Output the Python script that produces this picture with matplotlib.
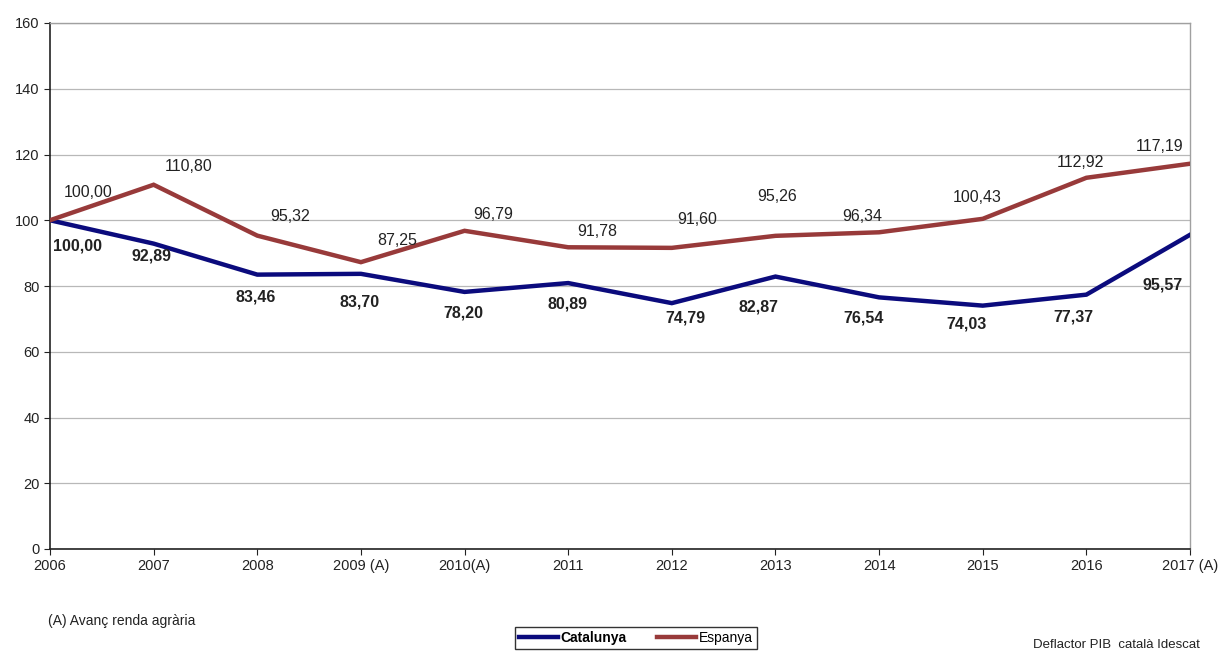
import matplotlib.pyplot as plt
from matplotlib.lines import Line2D

plt.rcParams['font.family'] = ['Liberation Sans', 'DejaVu Sans']

years = ["2006", "2007", "2008", "2009 (A)", "2010(A)", "2011", "2012",
         "2013", "2014", "2015", "2016", "2017 (A)"]
catalunya = [100.00, 92.89, 83.46, 83.70, 78.20, 80.89, 74.79, 82.87,
             76.54, 74.03, 77.37, 95.57]
espanya = [100.00, 110.80, 95.32, 87.25, 96.79, 91.78, 91.60, 95.26,
           96.34, 100.43, 112.92, 117.19]

# label offsets in pixels (dx, dy)
esp_offsets = [(38, 28), (35, 18), (33, 19), (36, 22), (29, 16), (29, 16),
               (25, 28), (2, 39), (-17, 16), (-6, 21), (-6, 15), (-30, 17)]
cat_offsets = [(28, -26), (-2, -12), (-2, -22), (-1, -28), (-1, -21), (-1, -21),
               (14, -15), (-17, -30), (-16, -21), (-16, -18), (-13, -22), (-27, -50)]

col_cat = '#0b0b7d'
col_esp = '#983a3a'


def fmt(v):
    return f"{v:.2f}".replace('.', ',')


fig = plt.figure(figsize=(12.23, 6.53), dpi=100)
ax = fig.add_axes([50 / 1223, 104 / 653, 1140 / 1223, 526 / 653])

x = list(range(len(years)))
ax.plot(x, catalunya, color=col_cat, lw=3.2, solid_joinstyle='miter', zorder=3)
ax.plot(x, espanya, color=col_esp, lw=3.2, solid_joinstyle='miter', zorder=3)

for i, v in enumerate(espanya):
    ax.annotate(fmt(v), (i, v), xytext=esp_offsets[i], textcoords='offset pixels',
                ha='center', va='center', fontsize=11.5, color='#222222')
for i, v in enumerate(catalunya):
    ax.annotate(fmt(v), (i, v), xytext=cat_offsets[i], textcoords='offset pixels',
                ha='center', va='center', fontsize=11.5, fontweight='bold', color='#222222')

ax.set_xlim(0, len(years) - 1)
ax.set_ylim(0, 160)
ax.set_yticks(range(0, 161, 20))
ax.set_xticks(x)
ax.set_xticklabels(years)
ax.tick_params(axis='both', labelsize=10.5, colors='#222222', direction='out', length=4)
ax.grid(axis='y', color='#b8b8b8', lw=0.9)
ax.set_axisbelow(True)

for side in ['left', 'bottom']:
    ax.spines[side].set_color('#222222')
    ax.spines[side].set_linewidth(1.2)
for side in ['top', 'right']:
    ax.spines[side].set_color('#a0a0a0')
    ax.spines[side].set_linewidth(1.0)

fig.text(48 / 1223, 1 - 621 / 653, "(A) Avanç renda agrària", fontsize=10,
         ha='left', va='center', color='#222222')
fig.text(1200 / 1223, 1 - 645 / 653, "Deflactor PIB  català Idescat", fontsize=9.5,
         ha='right', va='center', color='#222222')

handles = [Line2D([], [], color=col_cat, lw=3.2), Line2D([], [], color=col_esp, lw=3.2)]
leg = fig.legend(handles, ["Catalunya", "Espanya"], loc='upper center',
                 bbox_to_anchor=(636 / 1223, 1 - 627 / 653), ncol=2, frameon=True,
                 fancybox=False, edgecolor='black', fontsize=10, handlelength=2.8,
                 handletextpad=0.2, columnspacing=2.2, borderpad=0.3,
                 borderaxespad=0.0)
leg.get_frame().set_linewidth(1.0)
leg.get_texts()[0].set_fontweight('bold')

plt.savefig("out.png", dpi=100)
plt.close(fig)
